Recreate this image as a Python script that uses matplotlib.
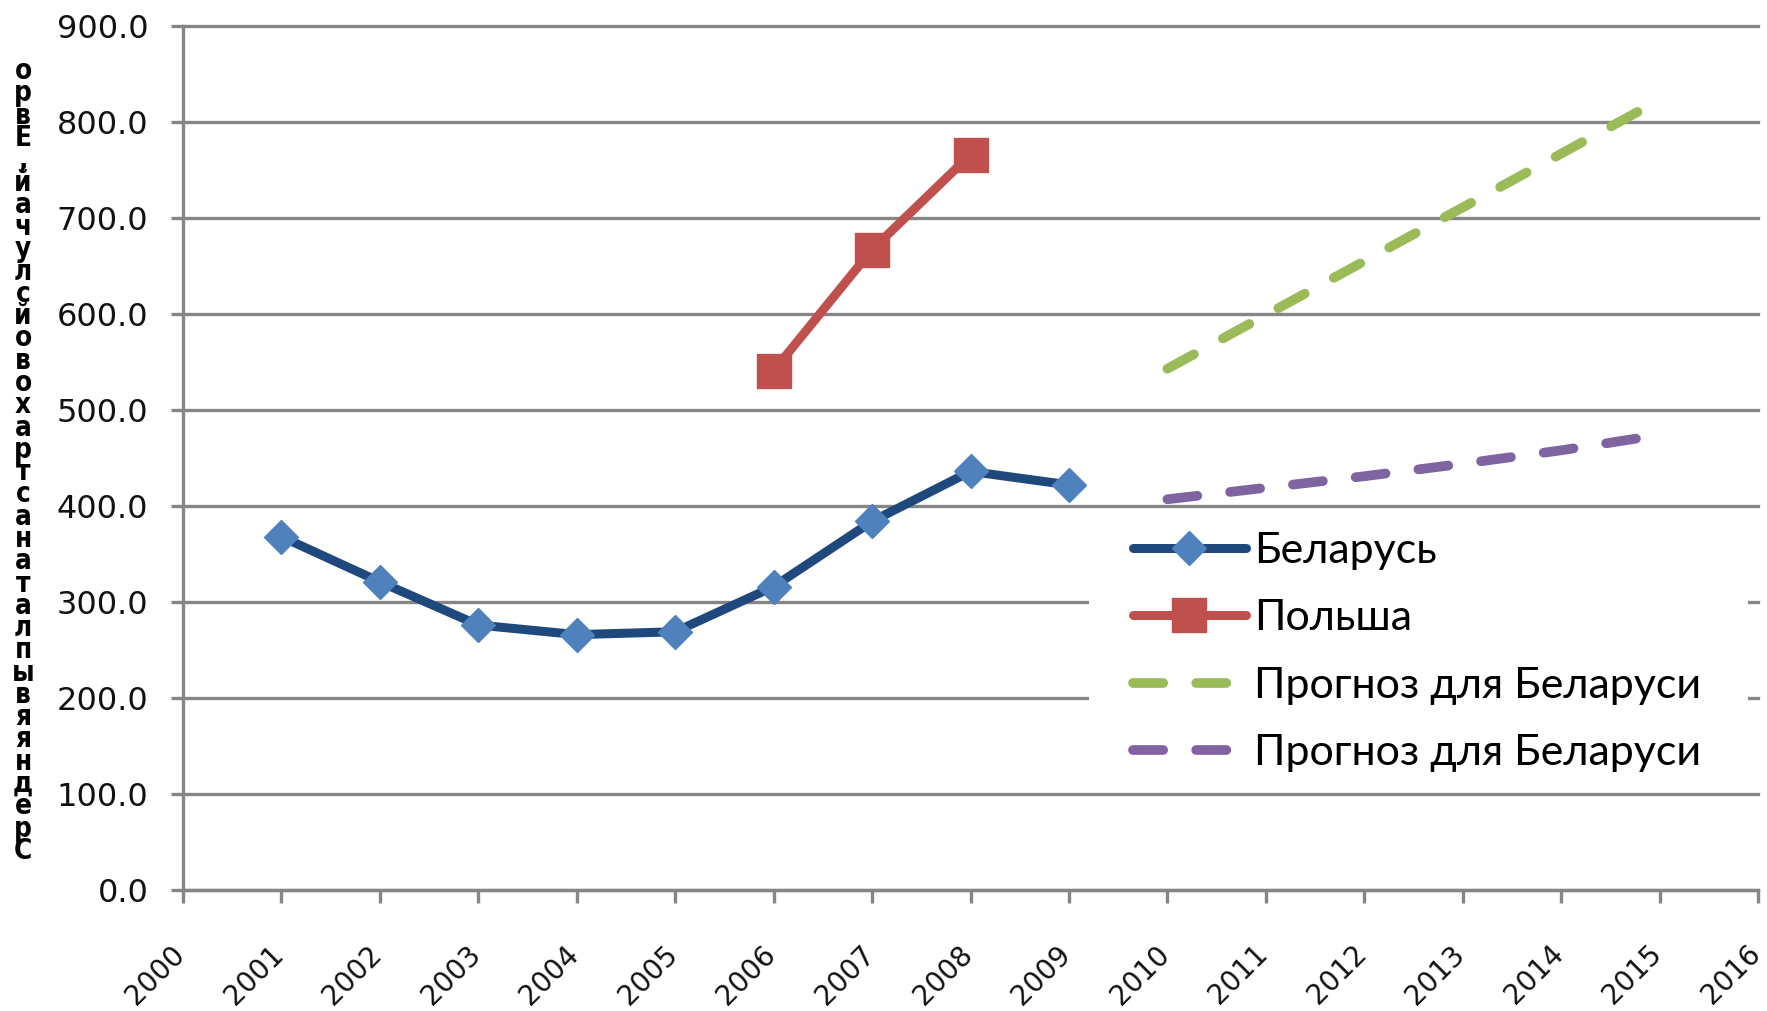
import matplotlib
matplotlib.use("Agg")
import matplotlib.pyplot as plt
from matplotlib.ticker import FixedLocator, FixedFormatter
from matplotlib.patches import Rectangle
from matplotlib.transforms import ScaledTranslation

# ---- data ----
years_axis = list(range(2000, 2017))
x_tick_labels = [str(y) for y in years_axis]
y_ticks = [0, 100, 200, 300, 400, 500, 600, 700, 800, 900]
y_tick_labels = [f"{v:.1f}" for v in y_ticks]

belarus_years = [2001, 2002, 2003, 2004, 2005, 2006, 2007, 2008, 2009]
belarus_vals = [368, 321, 276, 266, 269, 316, 384, 436, 422]

poland_years = [2006, 2007, 2008]
poland_vals = [541, 667, 766]

forecast_years = [2010, 2011, 2012, 2013, 2014, 2015]
forecast_green = [543, 599, 655, 711, 767, 823]
forecast_purple = [407, 419, 431, 444, 458, 474]

series_labels = ["Беларусь", "Польша", "Прогноз для Беларуси", "Прогноз для Беларуси"]
y_label = "Средняя выплата на страховой случай, Евро"

# ---- styles ----
GRID = "#868686"
C_BY_LINE = "#1F497D"
C_BY_MARK = "#4F81BD"
C_PL = "#C0504D"
C_GREEN = "#9BBB59"
C_PURPLE = "#8064A2"

W, H = 1767, 1011
fig = plt.figure(figsize=(W / 100, H / 100), dpi=100)
ax = fig.add_axes([183 / W, (H - 890) / H, (1758 - 183) / W, (890 - 26) / H])

ax.set_xlim(2000, 2016)
ax.set_ylim(0, 900)

for s in ["top", "right"]:
    ax.spines[s].set_visible(False)
for s in ["left", "bottom"]:
    ax.spines[s].set_color(GRID)
    ax.spines[s].set_linewidth(2.4)

ax.yaxis.set_major_locator(FixedLocator(y_ticks))
ax.yaxis.set_major_formatter(FixedFormatter(y_tick_labels))
ax.xaxis.set_major_locator(FixedLocator(years_axis))
ax.xaxis.set_major_formatter(FixedFormatter(x_tick_labels))

ax.grid(axis="y", color=GRID, linewidth=2.4, zorder=0)
for gl in ax.get_ygridlines():
    gl.set_clip_on(False)
ax.set_axisbelow(True)

ax.tick_params(axis="both", direction="out", length=9, width=2.4, color=GRID)
ax.tick_params(axis="y", pad=16, labelsize=23, labelcolor="#111111")
ax.tick_params(axis="x", pad=27, labelsize=20, labelcolor="#111111")
shift = ScaledTranslation(-0.12, 0, fig.dpi_scale_trans)
for lab in ax.get_xticklabels():
    lab.set_rotation(45)
    lab.set_ha("right")
    lab.set_va("top")
    lab.set_rotation_mode("anchor")
    lab.set_transform(lab.get_transform() + shift)

# white background block behind legend (covers gridlines as in the source)
ax.add_patch(Rectangle((1089 / W, 1 - 785 / H), (1748 - 1089) / W, (785 - 515) / H,
                       transform=fig.transFigure, facecolor="white", edgecolor="none",
                       zorder=1, clip_on=False))

lw = 6.5
ax.plot(belarus_years, belarus_vals, color=C_BY_LINE, lw=lw, marker="D", ms=17,
        mfc=C_BY_MARK, mec=C_BY_MARK, solid_capstyle="round", label=series_labels[0], zorder=3)
ax.plot(poland_years, poland_vals, color=C_PL, lw=lw, marker="s", ms=24,
        mfc=C_PL, mec=C_PL, solid_capstyle="round", label=series_labels[1], zorder=3)
ax.plot(forecast_years, forecast_green, color=C_GREEN, lw=7, dashes=(3.1, 3.4),
        dash_capstyle="round", label=series_labels[2], zorder=3)
ax.plot(forecast_years, forecast_purple, color=C_PURPLE, lw=7, dashes=(3.1, 3.4),
        dash_capstyle="round", label=series_labels[3], zorder=3)

leg = ax.legend(loc="center left", bbox_to_anchor=(1133 / W, 1 - 652 / H),
                bbox_transform=fig.transFigure, frameon=False,
                prop={"family": "Lato", "size": 31}, handlelength=2.62,
                handletextpad=0.19, labelspacing=0.68, borderpad=0,
                borderaxespad=0)
leg.set_zorder(5)

# stacked vertical y-axis title (characters reversed top-to-bottom as in the source)
chars = [c for c in y_label if c != " "]
fig.text(23 / W, 1 - 461 / H, "\n".join(reversed(chars)), ha="center", va="center",
         fontsize=20, fontweight="bold", family="DejaVu Sans", fontstretch="condensed",
         linespacing=0.74, multialignment="center")

fig.savefig("out.png", dpi=100, facecolor="white")
